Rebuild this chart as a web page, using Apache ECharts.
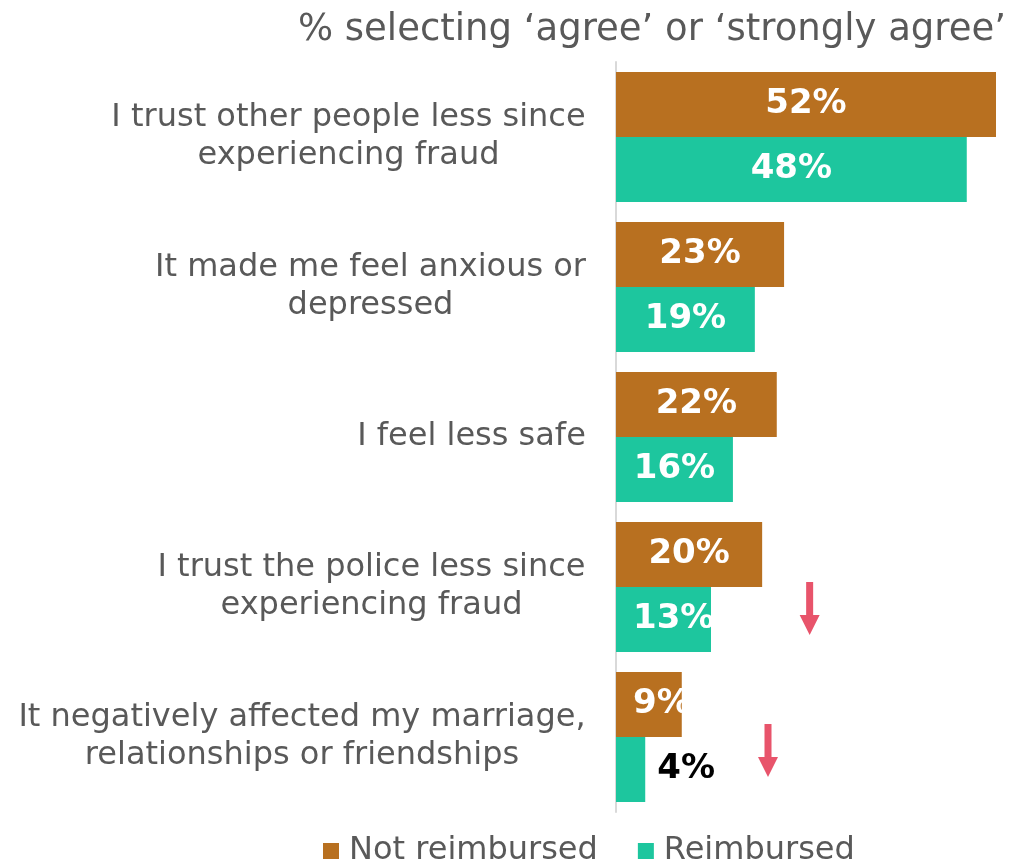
<!DOCTYPE html>
<html>
<head>
<meta charset="utf-8">
<script src="https://cdn.jsdelivr.net/npm/echarts@6/dist/echarts.min.js"></script>
<style>
  html, body { margin: 0; padding: 0; background: #ffffff; }
  #chart { width: 1012px; height: 862px; }
</style>
</head>
<body>
<div id="chart"></div>
<script>
// Impact statements, top to bottom
const categories = [
  'I trust other people less since\nexperiencing fraud',
  'It made me feel anxious or\ndepressed',
  'I feel less safe',
  'I trust the police less since\nexperiencing fraud',
  'It negatively affected my marriage,\nrelationships or friendships'
];
const notReimbursed = [52, 23, 22, 20, 9];
const reimbursed = [48, 19, 16, 13, 4];
const seriesNames = ['Not reimbursed', 'Reimbursed'];
const titleText = '% selecting \u2018agree\u2019 or \u2018strongly agree\u2019';

// Down-arrow annotations: [x value, category index]
const arrowMarks = [[26.5, 3], [20.8, 4]];

const BROWN = '#B87020';
const TEAL = '#1DC69E';
const GREY = '#595959';
const FONT = 'DejaVu Sans, Verdana, sans-serif';
const CAT_SIZE = 32;

// Measure each label's longest line so its lines can be centred within a right-aligned block
const measureCtx = document.createElement('canvas').getContext('2d');
measureCtx.font = CAT_SIZE + 'px ' + FONT;
const catRich = {};
categories.forEach((c, i) => {
  const w = Math.max(...c.split('\n').map(s => measureCtx.measureText(s).width));
  catRich['c' + i] = {
    width: Math.ceil(w) + 2,
    align: 'center',
    color: GREY,
    fontFamily: FONT,
    fontSize: CAT_SIZE,
    lineHeight: 38
  };
});

// Labels on short bars sit near the bar start; the smallest sits outside in black
function labelFor(v) {
  if (v < 5) return { position: 'right', distance: 12, color: '#000000' };
  if (v <= 13) return { position: 'insideLeft', distance: 17 };
  return null;
}

function seriesData(values) {
  return values.map(v => {
    const lab = labelFor(v);
    return lab ? { value: v, label: lab } : v;
  });
}

const chart = echarts.init(document.getElementById('chart'), null, { renderer: 'canvas' });

const baseLabel = {
  show: true,
  position: 'inside',
  formatter: '{c}%',
  color: '#ffffff',
  fontFamily: FONT,
  fontWeight: 'bold',
  fontSize: 34
};

chart.setOption({
  animation: false,
  backgroundColor: '#ffffff',
  title: {
    text: titleText,
    right: 1,
    top: 7,
    textStyle: { color: GREY, fontFamily: FONT, fontWeight: 'normal', fontSize: 37 }
  },
  legend: {
    data: seriesNames,
    left: 318,
    top: 830,
    icon: 'rect',
    itemWidth: 16,
    itemHeight: 16,
    itemGap: 40,
    textStyle: { color: GREY, fontFamily: FONT, fontSize: 32, padding: [0, 0, 0, 5] }
  },
  grid: { left: 616, top: 62, width: 380, height: 750, containLabel: false },
  xAxis: {
    type: 'value',
    min: 0,
    max: 52,
    show: false
  },
  yAxis: {
    type: 'category',
    data: categories,
    inverse: true,
    axisLine: { show: true, lineStyle: { color: '#D9D9D9', width: 2 } },
    axisTick: { show: false },
    splitLine: { show: false },
    axisLabel: {
      margin: 29,
      align: 'right',
      formatter: (value, idx) =>
        value.split('\n').map(s => '{c' + idx + '|' + s + '}').join('\n'),
      rich: catRich
    }
  },
  series: [
    {
      name: seriesNames[0],
      type: 'bar',
      data: seriesData(notReimbursed),
      itemStyle: { color: BROWN },
      barWidth: 65,
      barGap: '0%',
      label: baseLabel
    },
    {
      name: seriesNames[1],
      type: 'bar',
      data: seriesData(reimbursed),
      itemStyle: { color: TEAL },
      barWidth: 65,
      barGap: '0%',
      label: baseLabel
    }
  ]
});

// Red down arrows placed through the chart's own coordinate system
const arrowGraphics = arrowMarks.map(([xv, ci], i) => {
  const p = chart.convertToPixel({ gridIndex: 0 }, [xv, categories[ci]]);
  const top = p[1] + (i === 0 ? -5 : -13);
  const cx = p[0];
  return {
    type: 'polygon',
    shape: {
      points: [
        [cx - 3.5, top], [cx + 3.5, top], [cx + 3.5, top + 33],
        [cx + 10, top + 33], [cx, top + 53], [cx - 10, top + 33],
        [cx - 3.5, top + 33]
      ]
    },
    style: { fill: '#E8546B' },
    silent: true
  };
});
chart.setOption({ graphic: arrowGraphics });
</script>
</body>
</html>
